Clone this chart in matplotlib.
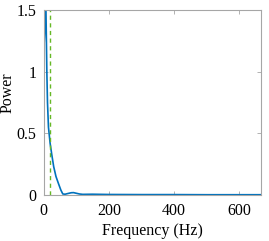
import matplotlib.pyplot as plt

# spectrum
freq = [0, 3, 7, 10, 12, 15, 20, 25, 31, 38, 46, 53, 59, 66, 75, 85, 92, 100,
        110, 120, 150, 200, 300, 400, 500, 600, 667]
power = [1.13, 1.30, 1.55, 1.00, 0.75, 0.55, 0.42, 0.33, 0.23, 0.15, 0.09,
         0.04, 0.008, 0.006, 0.012, 0.018, 0.019, 0.014, 0.008, 0.005, 0.006,
         0.004, 0.003, 0.003, 0.002, 0.002, 0.002]
cutoff = 21

plt.rcParams['font.family'] = ['Liberation Serif', 'DejaVu Serif']
plt.rcParams['font.size'] = 11.5

fig = plt.figure(figsize=(2.69, 2.41), dpi=100)
ax = fig.add_axes([0.162, 0.191, 0.808, 0.768])

ax.plot(freq, power, color=(0, 0.447, 0.741), lw=1.2)
ax.axvline(cutoff, color=(0.40, 0.72, 0.15), ls='--', lw=1.0, dashes=(3, 2.5))

ax.set_xlim(0, 667)
ax.set_ylim(0, 1.5)
ax.set_xticks([0, 200, 400, 600])
ax.set_yticks([0, 0.5, 1, 1.5])
ax.set_yticklabels(['0', '0.5', '1', '1.5'])
ax.set_xlabel('Frequency (Hz)', labelpad=3)
ax.set_ylabel('Power')
ax.yaxis.set_label_coords(-0.128, 0.55)

for s in ax.spines.values():
    s.set_color('#a6a6a6')
    s.set_linewidth(0.8)
ax.tick_params(direction='in', length=3, width=0.6, color='#a6a6a6',
               top=True, right=True, labelcolor='black')
ax.tick_params(axis='x', pad=6)
ax.tick_params(axis='y', pad=5)

fig.savefig('out.png', dpi=100)
